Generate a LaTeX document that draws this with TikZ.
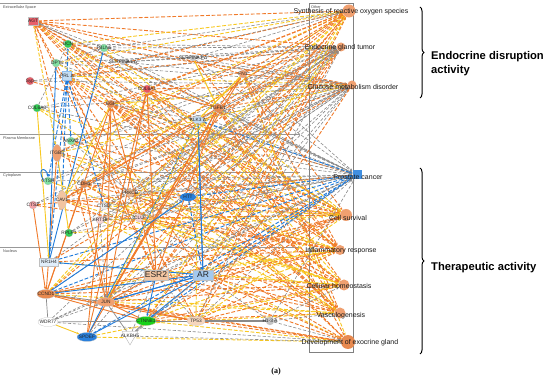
\documentclass[tikz,border=0pt]{standalone}
\usepackage{fontspec}
\setmainfont{Liberation Sans}
\newfontfamily\capfont{Liberation Serif}
\usetikzlibrary{shapes.geometric,arrows.meta,decorations.pathreplacing}
\pgfdeclarelayer{bg}
\pgfsetlayers{bg,main}
\definecolor{cO}{HTML}{F07A2A}
\definecolor{cY}{HTML}{F8C820}
\definecolor{cG}{HTML}{8A8A8A}
\definecolor{cB}{HTML}{1F7BDB}
\definecolor{fRed}{HTML}{E8606A}
\definecolor{fPink}{HTML}{F2A2A8}
\definecolor{fLPink}{HTML}{F5D2D2}
\definecolor{fGreen}{HTML}{33CC55}
\definecolor{fLGreen}{HTML}{80E0A0}
\definecolor{fOrange}{HTML}{E88A50}
\definecolor{fLOrange}{HTML}{F0A070}
\definecolor{fTan}{HTML}{F2C4A0}
\definecolor{fLBlue}{HTML}{C4DDF4}
\definecolor{fBlue}{HTML}{2A80DC}
\definecolor{fGray}{HTML}{C4C4C4}
\begin{document}
\begin{tikzpicture}[x=1pt,y=-1pt,
  arr/.style={-{Stealth[length=2.8pt,width=2.4pt]}},
  eO/.style={draw=cO,line width=0.9pt,dash pattern=on 3.8pt off 1.8pt,arr},
  eY/.style={draw=cY,line width=0.9pt,dash pattern=on 3.8pt off 1.8pt,arr},
  eG/.style={draw=cG,line width=0.6pt,dash pattern=on 3.2pt off 1.8pt,arr},
  eB/.style={draw=cB,line width=0.9pt,dash pattern=on 3.8pt off 1.8pt,arr},
  sO/.style={draw=cO,line width=0.9pt,arr},
  sY/.style={draw=cY,line width=0.9pt,arr},
  sG/.style={draw=cG,line width=0.7pt},
  sB/.style={draw=cB,line width=0.9pt,arr},
  gn/.style={circle,draw=black!25,line width=0.2pt,inner sep=0pt,minimum size=8pt},
  ge/.style={ellipse,draw=black!25,line width=0.2pt,inner sep=0pt,minimum width=18pt,minimum height=9pt},
  gv/.style={ellipse,draw=black!25,line width=0.2pt,inner sep=0pt,minimum width=9pt,minimum height=17pt},
  gr/.style={rectangle,draw=black!25,line width=0.2pt,inner sep=0pt},
  gl/.style={font=\fontsize{4.8}{5}\selectfont,text=black!85,inner sep=0pt},
  gL/.style={font=\fontsize{8.5}{9}\selectfont,text=black!85,inner sep=0pt},
  fn/.style={circle,fill=fLOrange,draw=none,inner sep=0pt,minimum size=10pt},
  fl/.style={font=\fontsize{7}{8}\selectfont,text=black!90,inner sep=0pt},
  cl/.style={font=\fontsize{3.8}{4}\selectfont,text=black!70,inner sep=0pt,anchor=west},
  bl/.style={font=\bfseries\fontsize{11.2}{14}\selectfont,inner sep=0pt,anchor=west,align=left},
]
\useasboundingbox (0,0) rectangle (550,382);

% ---------- gene nodes ----------
\node[gr,fill=fRed,minimum width=10pt,minimum height=8pt,label={[gl]center:AGT}] (agt) at (33,21) {};
\node[gn,fill=fGreen,label={[gl]center:DCN}] (dcn) at (68,44) {};
\node[gn,fill=fLGreen,label={[gl]center:FBLN5}] (fbln) at (104,48) {};
\node[gn,fill=fLGreen,label={[gl]center:DPT}] (dpt) at (56,63) {};
\node[gr,fill=fLBlue,draw=cB!50,minimum width=9pt,minimum height=9pt,label={[gl]center:PRL Δ}] (prl) at (67,76) {};
\node[gn,fill=fRed,label={[gl]center:Syp}] (syp) at (30,81) {};
\node[gn,fill=fGray,minimum size=6pt,label={[gl]center:SERPINA1 Δ}] (sa1) at (123,62) {};
\node[gn,fill=fGray,minimum size=6pt,label={[gl]center:SERPINA3 Δ}] (sa3) at (193,58) {};
\node[gn,fill=fRed!90!red,label={[gl]center:COL6A1}] (c6a1) at (147,89) {};
\node[gn,fill=fOrange!90!brown,label={[gl]center:EGF}] (egf) at (111,104) {};
\node[gn,fill=fGreen,label={[gl]center:COL6A3}] (c6a3) at (37,108) {};
\node[gn,fill=fLOrange,label={[gl]center:FN1}] (fn1) at (243,74) {};
\node[gn,fill=fOrange,minimum size=9pt,label={[gl]center:TGFB1}] (tgfb) at (218,108) {};
\node[ellipse,fill=fLBlue,draw=black!25,line width=0.2pt,inner sep=0pt,minimum width=12pt,minimum height=7pt,label={[gl]center:KLK3 Δ}] (klk3) at (198,120) {};
\node[gn,fill=fLGreen,label={[gl]center:ANXA2}] (anxa) at (71,141) {};
\node[gv,fill=fLOrange,label={[gl]center:ITGB5}] (itgb) at (57,153) {};
\node[gn,fill=fLGreen,label={[gl]center:CTSH}] (ctsh) at (48,181) {};
\node[gn,fill=fOrange,label={[gl]center:CDH1}] (cdh1) at (84,184) {};
\node[gv,fill=fTan,minimum height=19pt,label={[gl]center:CAV1}] (cav1) at (62,200) {};
\node[gn,fill=fPink,label={[gl]center:CTSZ}] (ctsz) at (33,205) {};
\node[gn,fill=black!8,label={[gl]center:CTSD}] (ctsd) at (104,206) {};
\node[gn,fill=fTan!80!brown,label={[gl]center:PRKCD}] (prkcd) at (130,193) {};
\node[gn,fill=fLPink,label={[gl]center:KRT18}] (krt) at (100,220) {};
\node[gn,fill=fLPink,label={[gl]center:CLU}] (clu) at (139,218) {};
\node[gn,fill=fGreen,label={[gl]center:RPLP1}] (rplp) at (69,233) {};
\node[ellipse,fill=fBlue,draw=none,inner sep=0pt,minimum width=16pt,minimum height=8pt,label={[gl]center:HTT}] (htt) at (188,197) {};
\node[gr,fill=fLBlue!50,minimum width=19pt,minimum height=8pt,label={[gl]center:NR1H4}] (nr1h4) at (49,262) {};
\node[gr,fill=fTan,minimum width=24pt,minimum height=10pt,label={[gL]center:ESR2}] (esr2) at (156,275) {};
\node[gr,fill=fLBlue!80!cB,minimum width=20pt,minimum height=10pt,label={[gL]center:AR}] (ar) at (203,275) {};
\node[ge,fill=fOrange,label={[gl]center:CCND1}] (ccnd1) at (46,294) {};
\node[ge,fill=fLOrange,label={[gl]center:JUN}] (jun) at (106,302) {};
\node[ge,fill=white,minimum width=20pt,label={[gl]center:WDR77}] (wdr) at (48,322) {};
\node[ge,fill=green!80!black!90,minimum width=20pt,label={[gl]center:CTNNB1}] (ctnnb) at (146,321) {};
\node[ge,fill=fTan!70,label={[gl]center:TP53}] (tp53) at (196,321) {};
\node[ge,fill=fBlue,minimum width=20pt,label={[gl]center:SPDEF}] (spdef) at (87,337) {};
\node[regular polygon,regular polygon sides=3,shape border rotate=180,draw=black!35,line width=0.3pt,fill=white,inner sep=0pt,minimum size=18pt,label={[gl]center:ALKBH5}] (alkb) at (130,336) {};
\node[gn,fill=fGray,label={[gl]center:H1-3 Δ}] (h13) at (270,321) {};

% ---------- function nodes ----------
\node[fn,minimum size=13pt] (ros) at (349,11) {};
\node[fn,minimum size=9pt] (egt) at (341,47) {};
\node[fn,minimum size=9pt] (gmd) at (352,85) {};
\node[rectangle,fill=cB!85,inner sep=0pt,minimum size=9pt] (pc) at (357,175) {};
\node[fn,minimum size=12pt] (cs) at (346,215) {};
\node[fn,minimum size=10pt] (ir) at (340,250) {};
\node[fn,minimum size=11pt] (ch) at (344,285) {};
\node[fn,minimum size=11pt] (vg) at (340,313) {};
\node[fn,fill=fOrange,minimum size=14pt] (deg) at (348,342) {};
\node[fl] (tros) at (351,12) {Synthesis of reactive oxygen species};
\node[fl] (tegt) at (340,48) {Endocrine gland tumor};
\node[fl] (tgmd) at (353,87) {Glucose metabolism disorder};
\node[fl] (tpc) at (358,177) {Prostate cancer};
\node[fl] (tcs) at (348,218) {Cell survival};
\node[fl] (tir) at (341,251) {Inflammatory response};
\node[fl] (tch) at (339,286) {Cellular homeostasis};
\node[fl] (tvg) at (341,316) {Vasculogenesis};
\node[fl] (tdeg) at (350,343) {Development of exocrine gland};

% ---------- compartments ----------
\begin{pgfonlayer}{bg}
\fill[white] (0,0) rectangle (550,382);
\foreach \yy in {3,134,172,247} {\draw[black!40,line width=0.4pt] (0,\yy) -- (300,\yy);}
\draw[black!50,line width=0.5pt] (309,3) rectangle (353,352);
\end{pgfonlayer}
\node[cl] (lex) at (3,8) {Extracellular Space};
\node[cl] (lpm) at (3,138) {Plasma Membrane};
\node[cl] (lcy) at (3,176) {Cytoplasm};
\node[cl] (lnu) at (3,251) {Nucleus};
\node[cl] (lot) at (311,7) {Other};

% ---------- edges ----------
\begin{pgfonlayer}{bg}
\foreach \a/\b/\s in {agt/ros/eO, agt/egt/eO, agt/gmd/eO, agt/pc/eG, agt/cs/eO, agt/ir/eO, agt/ch/eY, agt/vg/eO,
 dcn/ros/eY, dcn/egt/eG, dcn/gmd/eO, dcn/pc/eG, dcn/cs/eY, dcn/ir/eO, dcn/vg/eO,
 fbln/ros/eG, fbln/egt/eG, fbln/gmd/eG, fbln/pc/eG, fbln/vg/eY,
 dpt/ros/eY, dpt/egt/eG, dpt/gmd/eG, dpt/pc/eG, dpt/cs/eY,
 prl/ros/eO, prl/egt/eO, prl/gmd/eY, prl/pc/eG, prl/cs/eO, prl/ch/eO, prl/deg/eO,
 syp/egt/eG, syp/gmd/eG, syp/pc/eO,
 sa1/ros/eG, sa1/egt/eG, sa1/gmd/eG, sa1/pc/eG, sa1/ir/eY,
 sa3/ros/eG, sa3/egt/eG, sa3/gmd/eG, sa3/pc/eG, sa3/ir/eO,
 c6a1/ros/eO, c6a1/gmd/eO, c6a1/cs/eO, c6a1/ir/eO, c6a1/vg/eO,
 egf/ros/eO, egf/egt/eO, egf/gmd/eY, egf/pc/eG, egf/cs/eO, egf/ir/eO, egf/ch/eO, egf/vg/eO, egf/deg/eO,
 c6a3/egt/eG, c6a3/gmd/eG, c6a3/pc/eG, c6a3/cs/eY, c6a3/vg/eY,
 fn1/ros/eO, fn1/egt/eG, fn1/gmd/eO, fn1/pc/eG, fn1/cs/eO, fn1/ir/eO, fn1/vg/eO, fn1/deg/eY,
 tgfb/ros/eO, tgfb/egt/eO, tgfb/gmd/eO, tgfb/pc/eG, tgfb/cs/eY, tgfb/ir/eO, tgfb/ch/eO, tgfb/vg/eO, tgfb/deg/eO,
 klk3/egt/eG, klk3/gmd/eG, klk3/pc/eB, klk3/cs/eY, klk3/ch/eY,
 anxa/ros/eY, anxa/egt/eG, anxa/gmd/eG, anxa/pc/eG, anxa/cs/eO, anxa/vg/eY,
 itgb/ros/eO, itgb/egt/eG, itgb/gmd/eY, itgb/cs/eO, itgb/ir/eY, itgb/vg/eO,
 ctsh/egt/eG, ctsh/gmd/eG, ctsh/pc/eG, ctsh/ch/eY,
 cdh1/ros/eY, cdh1/egt/eO, cdh1/gmd/eG, cdh1/pc/eG, cdh1/cs/eO, cdh1/ir/eO, cdh1/vg/eY, cdh1/deg/eO,
 cav1/ros/eO, cav1/egt/eG, cav1/gmd/eO, cav1/pc/eG, cav1/cs/eO, cav1/ir/eO, cav1/ch/eY, cav1/vg/eO,
 ctsz/egt/eG, ctsz/gmd/eG, ctsz/pc/eO, ctsz/ir/eO,
 ctsd/egt/eG, ctsd/gmd/eG, ctsd/pc/eG, ctsd/cs/eY, ctsd/ch/eY,
 prkcd/ros/eO, prkcd/egt/eG, prkcd/gmd/eG, prkcd/pc/eG, prkcd/cs/eO, prkcd/ir/eY, prkcd/ch/eO,
 krt/egt/eG, krt/gmd/eG, krt/pc/eG, krt/cs/eY, krt/deg/eY,
 clu/ros/eY, clu/egt/eG, clu/gmd/eG, clu/pc/eG, clu/cs/eO, clu/ir/eO, clu/ch/eY,
 rplp/egt/eG, rplp/gmd/eG, rplp/pc/eG, rplp/cs/eY,
 htt/ros/eO, htt/egt/eG, htt/gmd/eG, htt/pc/eB, htt/cs/eY, htt/ch/eO,
 nr1h4/egt/eG, nr1h4/gmd/eO, nr1h4/pc/eB, nr1h4/ir/eO, nr1h4/ch/eY,
 esr2/ros/eO, esr2/egt/eO, esr2/gmd/eG, esr2/pc/eG, esr2/cs/eO, esr2/ir/eY, esr2/ch/eO, esr2/vg/eO, esr2/deg/eO,
 ar/ros/eY, ar/egt/eO, ar/gmd/eG, ar/pc/eB, ar/cs/eO, ar/ir/eO, ar/ch/eY, ar/vg/eO, ar/deg/eO,
 ccnd1/ros/eY, ccnd1/egt/eO, ccnd1/gmd/eG, ccnd1/pc/eB, ccnd1/cs/eO, ccnd1/ir/eY, ccnd1/ch/eO, ccnd1/vg/eY, ccnd1/deg/eO,
 jun/ros/eO, jun/egt/eY, jun/gmd/eG, jun/pc/eG, jun/cs/eO, jun/ir/eO, jun/ch/eO, jun/vg/eY, jun/deg/eO,
 wdr/egt/eG, wdr/pc/eG, wdr/deg/eG,
 ctnnb/ros/eY, ctnnb/egt/eO, ctnnb/gmd/eG, ctnnb/pc/eB, ctnnb/cs/eO, ctnnb/ir/eY, ctnnb/ch/eO, ctnnb/vg/eO, ctnnb/deg/eY,
 tp53/ros/eO, tp53/egt/eG, tp53/gmd/eO, tp53/pc/eG, tp53/cs/eY, tp53/ir/eO, tp53/ch/eO, tp53/vg/eY, tp53/deg/eO,
 spdef/egt/eG, spdef/pc/eB, spdef/ch/eY, spdef/deg/eY,
 alkb/pc/eG, alkb/deg/eG,
 h13/pc/eG, h13/ch/eG, h13/vg/eG, h13/deg/eG,
 jun/egf/sO, jun/c6a1/sO, jun/tgfb/sO, jun/fn1/sO, jun/cdh1/sO, ccnd1/egf/sO, ccnd1/cdh1/sO, ccnd1/itgb/sO,
 spdef/c6a1/sO, spdef/egf/sO, spdef/tgfb/sO, esr2/egf/sO, esr2/c6a1/sO, esr2/tgfb/sO, esr2/ccnd1/sO, esr2/jun/sO,
 tgfb/fn1/sO, tgfb/c6a1/sO, ctsz/ccnd1/sO, ctnnb/ccnd1/sO, ctnnb/jun/sO, tp53/jun/sO, tp53/ccnd1/sO, tgfb/cav1/sO,
 tgfb/agt/eO, fn1/agt/eO, c6a1/agt/eO, esr2/agt/eO, tp53/agt/eO, egf/agt/eO, jun/agt/eO, ar/prl/eO, esr2/prl/eO,
 ar/klk3/sB, ar/nr1h4/sB, ar/ccnd1/sB, ar/spdef/sB, ar/jun/sB, ar/ctnnb/sB, spdef/klk3/sB, esr2/ctnnb/sB,
 nr1h4/fbln/sB, nr1h4/dpt/sB, jun/ar/sB, ccnd1/htt/sB, klk3/ar/sB,
 prl/dcn/eB, prl/anxa/eB, prl/ctsh/eB, prl/cav1/eB, prl/nr1h4/eB, prl/ctsd/eB, htt/ar/eB,
 wdr/ctnnb/sG, ctnnb/tp53/sG, ccnd1/wdr/sG, alkb/ctnnb/sG, alkb/jun/sG, ccnd1/jun/sG,
 wdr/spdef/sY, c6a3/nr1h4/sY, itgb/rplp/sY, egf/cav1/sY, fn1/klk3/sY, sa3/tgfb/sY,
 sa1/agt/eG, esr2/wdr/eG, alkb/esr2/eG, alkb/ar/eG, klk3/egf/eG, ctsd/clu/eG, krt/jun/eG, h13/ar/eG, tp53/esr2/eG,
 fbln/agt/eG, sa3/sa1/eG, dpt/fbln/eG, c6a3/dcn/eG, anxa/prkcd/eG, clu/htt/eG, wdr/jun/eG, krt/clu/eG,
 prl/egf/eY, agt/itgb/eY, c6a1/cav1/eY, klk3/fn1/eY, jun/klk3/eY, tp53/klk3/eY, ccnd1/tgfb/eY}{\draw[\s] (\a) -- (\b);}
\draw[cG,line width=1.6pt] (tp53) -- (h13);
\draw[sB] (ctsh.west) .. controls (36,168) and (46,166) .. (ctsh.north);
\end{pgfonlayer}

% ---------- braces and titles ----------
\draw[line width=1pt,decorate,decoration={brace,amplitude=4pt}] (420,7) -- (420,98);
\draw[line width=1pt,decorate,decoration={brace,amplitude=4pt}] (420,168) -- (420,354);
\node[bl] (tend) at (431,64) {Endocrine disruption\\activity};
\node[bl] (tthe) at (431,268) {Therapeutic activity};
\node[font=\capfont\bfseries\fontsize{8}{9}\selectfont,inner sep=0pt] (cap) at (276,372) {(a)};
\end{tikzpicture}
\end{document}
